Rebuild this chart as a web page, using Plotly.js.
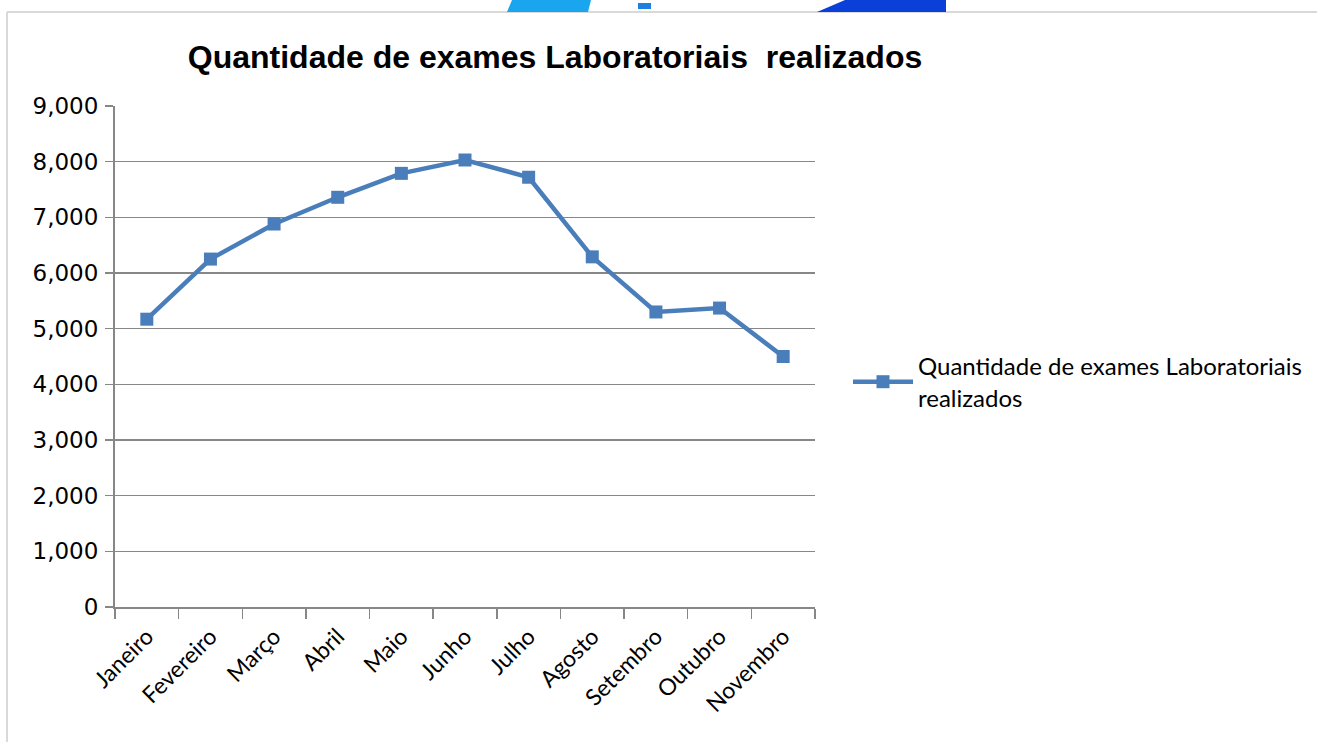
<!DOCTYPE html>
<html>
<head>
<meta charset="utf-8">
<script src="https://cdn.plot.ly/plotly-3.0.1.min.js"></script>
<style>
  html, body { margin: 0; padding: 0; background: #fff; overflow: hidden; }
  #chart { width: 1317px; height: 742px; }
</style>
</head>
<body>
<div id="chart"></div>
<script>
// values
const months = ["Janeiro", "Fevereiro", "Março", "Abril", "Maio", "Junho",
                "Julho", "Agosto", "Setembro", "Outubro", "Novembro"]
const exams = [5170, 6250, 6880, 7360, 7790, 8030, 7720, 6290, 5300, 5370, 4500]
const yTicks = [0, 1000, 2000, 3000, 4000, 5000, 6000, 7000, 8000, 9000]

const seriesName = "Quantidade de exames Laboratoriais<br>realizados"
const chartTitle = "<b>Quantidade de exames Laboratoriais&nbsp; realizados</b>"

// plot area in pixels: x 115..815, y 106..607
const L = 115, R = 815, T = 106, B = 607
const px = x => (x - L) / (R - L)
const py = y => (B - y) / (B - T)

const lineColor = '#4a7ebb'
const gridColor = '#878787'

const trace = {
    name: seriesName,
    x: months,
    y: exams,
    type: 'scatter',
    mode: 'lines+markers',
    line: {color: lineColor, width: 4.5},
    marker: {symbol: 'square', size: 13, color: lineColor},
    cliponaxis: false,
}

// frame and the header graphic cut off at the top of the picture
const shapes = [
    {type: 'line', xref: 'paper', yref: 'paper', x0: px(7), x1: px(1317), y0: py(12), y1: py(12),
        line: {color: '#d9d9d9', width: 2}},
    {type: 'line', xref: 'paper', yref: 'paper', x0: px(7), x1: px(7), y0: py(12), y1: py(742),
        line: {color: '#d9d9d9', width: 2}},
    {type: 'path', xref: 'paper', yref: 'paper', fillcolor: '#1aa6ee', line: {width: 0},
        path: `M ${px(507)} ${py(12)} L ${px(512)} ${py(0)} L ${px(591)} ${py(0)} L ${px(588)} ${py(12)} Z`},
    {type: 'rect', xref: 'paper', yref: 'paper', fillcolor: '#1f7fe0', line: {width: 0},
        x0: px(638), x1: px(651), y0: py(3), y1: py(9)},
    {type: 'path', xref: 'paper', yref: 'paper', fillcolor: '#0a3fd8', line: {width: 0},
        path: `M ${px(817)} ${py(12)} L ${px(845)} ${py(0)} L ${px(946)} ${py(0)} L ${px(946)} ${py(12)} Z`},
]

const layout = {
    width: 1317,
    height: 742,
    margin: {l: L, r: 1317 - R, t: T, b: 742 - B, pad: 0, autoexpand: false},
    paper_bgcolor: '#ffffff',
    plot_bgcolor: '#ffffff',
    title: {
        text: chartTitle,
        font: {family: 'Liberation Sans, Arial, sans-serif', size: 32, color: '#000'},
        x: 555 / 1317,
        xanchor: 'center',
        y: 1 - 57 / 742,
        yanchor: 'middle',
    },
    xaxis: {
        type: 'category',
        range: [-0.5, months.length - 0.5],
        showgrid: false,
        showline: true,
        linecolor: gridColor,
        linewidth: 2,
        ticks: 'outside',
        tickson: 'boundaries',
        ticklen: 10,
        tickwidth: 1.5,
        tickcolor: gridColor,
        tickangle: -45,
        ticklabelstandoff: 5,
        tickfont: {family: 'Lato, sans-serif', size: 23, color: '#000'},
        fixedrange: true,
    },
    yaxis: {
        range: [0, 9000],
        tickvals: yTicks,
        tickformat: ',',
        showgrid: true,
        gridcolor: gridColor,
        gridwidth: 1.5,
        zeroline: false,
        showline: true,
        linecolor: gridColor,
        linewidth: 2,
        ticks: 'outside',
        ticklen: 8,
        tickwidth: 1.5,
        tickcolor: gridColor,
        ticklabelstandoff: 2,
        tickfont: {family: 'DejaVu Sans, sans-serif', size: 23, color: '#000'},
        fixedrange: true,
    },
    showlegend: true,
    legend: {
        x: px(848),
        xanchor: 'left',
        y: py(382),
        yanchor: 'middle',
        font: {family: 'Lato, sans-serif', size: 24, color: '#000'},
        itemwidth: 60,
        bgcolor: 'rgba(0,0,0,0)',
    },
    shapes: shapes,
}

Plotly.newPlot('chart', [trace], layout, {displayModeBar: false, staticPlot: true})
</script>
</body>
</html>
